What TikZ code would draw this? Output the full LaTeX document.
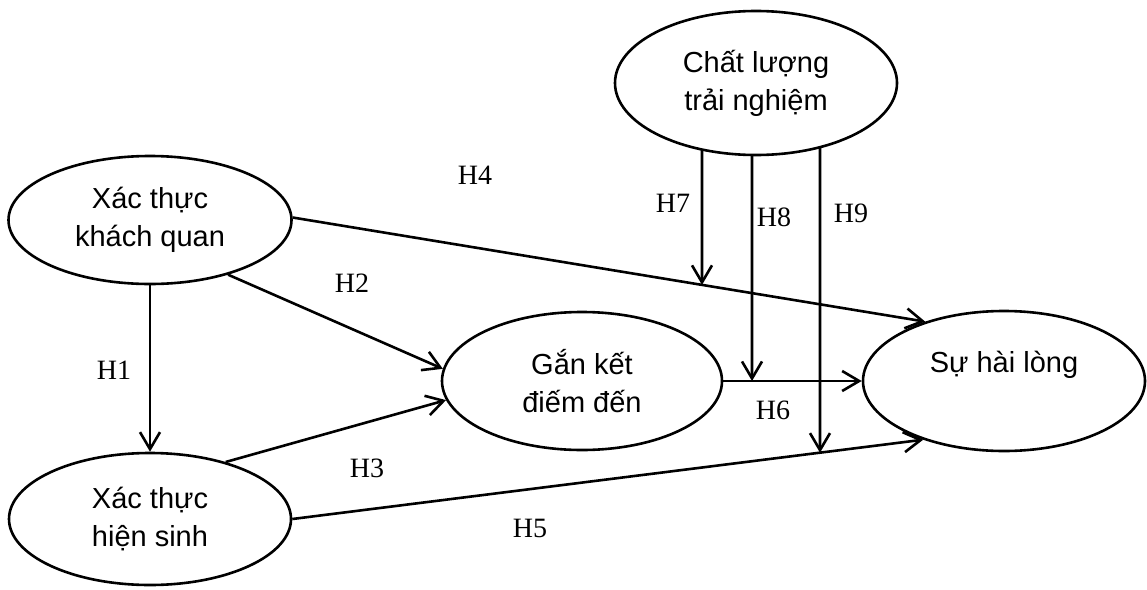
\documentclass[tikz,border=0pt]{standalone}
\usepackage{fontspec}
\setmainfont{Liberation Sans}
\newfontfamily\hypfont{Liberation Serif}
\usetikzlibrary{shapes.geometric,arrows.meta,intersections}

\begin{document}
\begin{tikzpicture}[x=1pt,y=-1pt,
  construct/.style={ellipse, draw, line width=2.6pt, inner sep=0pt, align=center,
    font=\fontsize{29}{38}\selectfont},
  link/.style={line width=2.6pt, -{Straight Barb[length=17pt,width=20pt]}},
  hyp/.style={inner sep=0pt, font=\hypfont\fontsize{28}{30}\selectfont}]
\useasboundingbox (0,0) rectangle (1147,589);

% constructs
\node[construct, minimum width=282pt, minimum height=144pt, name path=clrim] (cl) at (756,83)
  {Chất lượng\\trải nghiệm};
\node[construct, minimum width=283pt, minimum height=128pt] (kq) at (150,220)
  {Xác thực\\khách quan};
\node[construct, minimum width=282pt, minimum height=132pt] (hs) at (150,519)
  {Xác thực\\hiện sinh};
\node[construct, minimum width=280pt, minimum height=138pt] (gk) at (582,381)
  {Gắn kết\\điếm đến};
\node[construct, minimum width=282pt, minimum height=140pt] (shl) at (1004,381)
  {Sự hài lòng\\\mbox{}};

% direct paths
\draw[link] (kq.south) -- (hs.north);
\draw[link] (kq.-35) -- (gk.175);
\draw[link] (hs.37) -- (gk.188);
\draw[link, name path=p4] (kq.1) -- (shl.143);
\draw[link, name path=p5] (hs.0) -- (shl.216);
\draw[link, name path=p6] (gk.east) -- (shl.west);

% moderating paths from the top construct
\path[name path=v7] (702,0) -- (702,589);
\path[name path=v8] (752,0) -- (752,589);
\path[name path=v9] (820,0) -- (820,589);
\path[name intersections={of=v7 and clrim, sort by=v7, by={t7a,t7}}];
\path[name intersections={of=v8 and clrim, sort by=v8, by={t8a,t8}}];
\path[name intersections={of=v9 and clrim, sort by=v9, by={t9a,t9}}];
\path[name intersections={of=v7 and p4, by=b7}];
\path[name intersections={of=v8 and p6, by=b8}];
\path[name intersections={of=v9 and p5, by=b9}];
\draw[link] (t7) -- (b7);
\draw[link] (t8) -- (b8);
\draw[link] (t9) -- (b9);

% hypothesis labels
\node[hyp] (h1) at (114,370) {H1};
\node[hyp] (h2) at (352,283) {H2};
\node[hyp] (h3) at (367,468) {H3};
\node[hyp] (h4) at (475,175) {H4};
\node[hyp] (h5) at (530,528) {H5};
\node[hyp] (h6) at (773,410) {H6};
\node[hyp] (h7) at (673,203) {H7};
\node[hyp] (h8) at (774,217) {H8};
\node[hyp] (h9) at (851,213) {H9};
\end{tikzpicture}
\end{document}
